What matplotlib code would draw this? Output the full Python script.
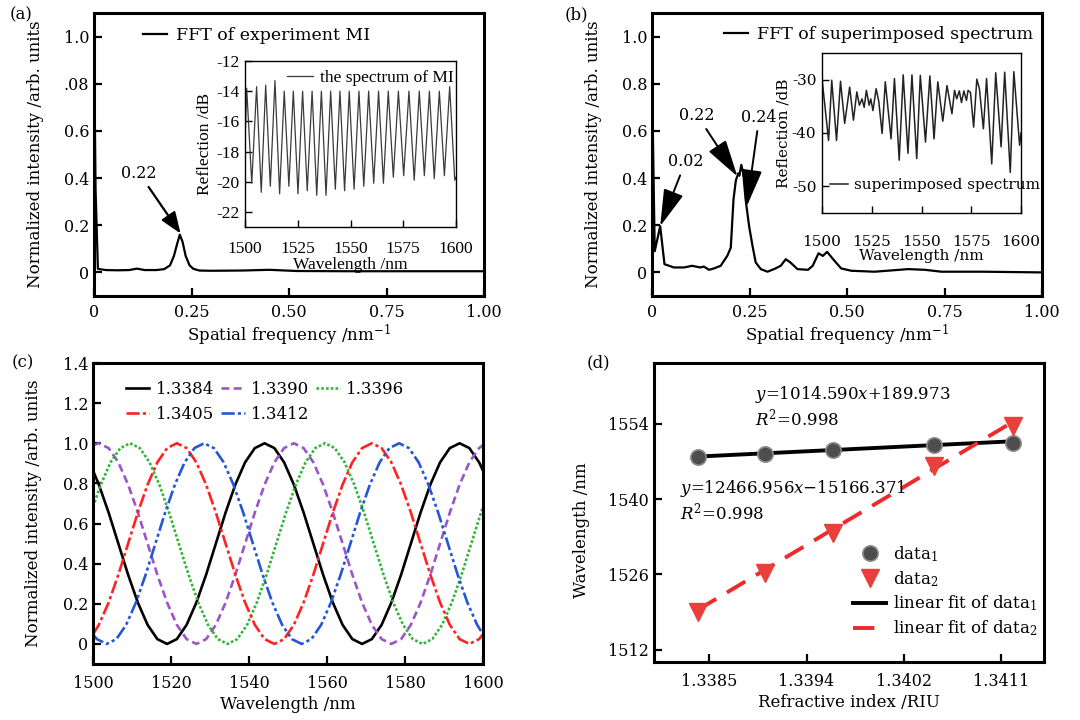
import numpy as np
import matplotlib
matplotlib.use('Agg')
import matplotlib.pyplot as plt

plt.rcParams['font.family'] = 'DejaVu Serif'
plt.rcParams['mathtext.fontset'] = 'dejavuserif'
plt.rcParams['axes.unicode_minus'] = False

# (a) FFT of experiment MI
fft_a_freq = [0.0, 0.004, 0.010, 0.03, 0.06, 0.09, 0.11, 0.13, 0.16, 0.18, 0.195, 0.205, 0.213,
              0.22, 0.227, 0.235, 0.245, 0.255, 0.27, 0.30, 0.38, 0.45, 0.52, 0.65, 0.80, 1.0]
fft_a_amp = [1.0, 0.35, 0.015, 0.01, 0.009, 0.01, 0.016, 0.01, 0.01, 0.014, 0.03, 0.07, 0.12,
             0.16, 0.13, 0.07, 0.03, 0.015, 0.008, 0.007, 0.008, 0.011, 0.006, 0.005, 0.005, 0.005]

# (a) inset: reflection spectrum of MI (peaks / dips)
mi_wl = [1500, 1500.8, 1503.2, 1505.5, 1507.7, 1509.8, 1512.0, 1514.2, 1516.4, 1518.6, 1520.8,
         1522.9, 1525.1, 1527.3, 1529.5, 1531.8, 1534.0, 1536.2, 1538.4, 1540.6, 1542.8, 1545.0,
         1547.2, 1549.4, 1551.7, 1554.0, 1556.3, 1558.6, 1561.0, 1563.3, 1565.6, 1567.9, 1570.3,
         1572.7, 1575.2, 1577.7, 1580.2, 1582.6, 1585.0, 1587.4, 1589.7, 1592.1, 1594.5, 1597.0,
         1599.4, 1600]
mi_db = [-17.5, -13.8, -20.1, -13.7, -20.7, -13.6, -20.3, -13.3, -20.8, -14.0, -20.3, -14.0, -20.8,
         -14.0, -20.6, -14.0, -20.9, -14.0, -20.9, -14.0, -20.5, -14.0, -20.6, -14.0, -20.5, -14.0,
         -20.3, -14.0, -20.1, -14.0, -20.1, -14.0, -19.7, -14.0, -19.6, -14.0, -19.9, -14.0, -19.6,
         -14.0, -19.8, -14.0, -19.6, -13.7, -19.9, -19.7]

# (b) FFT of superimposed spectrum
fft_b_freq = [0.0, 0.007, 0.021, 0.032, 0.056, 0.082, 0.103, 0.124, 0.133, 0.146, 0.159, 0.176,
              0.193, 0.202, 0.209, 0.215, 0.221, 0.224, 0.229, 0.234, 0.24, 0.249, 0.258, 0.266,
              0.279, 0.296, 0.313, 0.33, 0.343, 0.355, 0.373, 0.40, 0.412, 0.427, 0.438, 0.449,
              0.468, 0.485, 0.511, 0.571, 0.657, 0.70, 0.742, 0.85, 1.0]
fft_b_amp = [0.82, 0.09, 0.196, 0.035, 0.021, 0.021, 0.028, 0.021, 0.025, 0.011, 0.017, 0.028,
             0.07, 0.105, 0.31, 0.39, 0.42, 0.41, 0.456, 0.42, 0.31, 0.196, 0.11, 0.042,
             0.014, 0.003, 0.014, 0.028, 0.056, 0.042, 0.014, 0.011, 0.028, 0.081, 0.07, 0.087,
             0.049, 0.017, 0.007, 0.003, 0.014, 0.011, 0.003, 0.003, 0.0]

# (b) inset: superimposed spectrum
sup_wl = [1500, 1503.3, 1504.9, 1507.3, 1509.3, 1511.4, 1513.9, 1515.8, 1517.5, 1518.8, 1520.1,
          1521.2, 1522.3, 1523.7, 1524.5, 1525.6, 1527.2, 1528.5, 1530.2, 1531.8, 1534.7, 1536.4,
          1538.8, 1540.8, 1543.2, 1545.2, 1547.6, 1549.4, 1552.0, 1554.2, 1556.3, 1558.2, 1560.7,
          1562.8, 1565.3, 1566.6, 1567.7, 1569.0, 1570.1, 1571.3, 1572.6, 1573.4, 1574.6, 1576.2,
          1577.8, 1579.1, 1581.1, 1582.7, 1585.3, 1587.3, 1590.0, 1591.8, 1594.6, 1596.4, 1599.3,
          1600]
sup_db = [-29.8, -41.4, -30.1, -41.4, -30.3, -38.2, -31.4, -37.6, -32.3, -34.8, -33.6, -35.2,
          -32.0, -34.8, -33.6, -35.8, -31.7, -34.0, -40.1, -30.4, -41.1, -29.8, -45.1, -29.1,
          -43.8, -29.1, -44.8, -29.2, -41.7, -29.3, -41.1, -30.4, -37.8, -31.1, -36.4, -32.0,
          -33.6, -32.1, -34.3, -32.1, -33.9, -32.0, -32.4, -38.9, -29.9, -31.7, -39.2, -29.8,
          -45.8, -28.7, -42.6, -28.6, -47.4, -28.5, -42.3, -40.0]

# (c) simulated fringes for five refractive indices
ri_labels = ['1.3384', '1.3390', '1.3396', '1.3405', '1.3412']
wl_a = [1500, 1501.5, 1504, 1506.5, 1509, 1511.5, 1514, 1516.5, 1519, 1521.5, 1524, 1526.5, 1529,
        1531.5, 1534, 1536.5, 1539, 1541.5, 1544, 1546.5, 1549, 1551.5, 1554, 1556.5, 1559,
        1561.5, 1564, 1566.5, 1569, 1571.5, 1574, 1576.5, 1579, 1581.5, 1584, 1586.5, 1589,
        1591.5, 1594, 1596.5, 1599, 1600]
wl_green = [1500, 1502, 1504.5, 1507, 1509.5, 1512, 1514.5, 1517, 1519.5, 1522, 1524.5, 1527,
            1529.5, 1532, 1534.5, 1537, 1539.5, 1542, 1544.5, 1547, 1549.5, 1552, 1554.5, 1557,
            1559.5, 1562, 1564.5, 1567, 1569.5, 1572, 1574.5, 1577, 1579.5, 1582, 1584.5, 1587,
            1589.5, 1592, 1594.5, 1597, 1599.5, 1600]
wl_blue = [1500, 1501, 1503.5, 1506, 1508.5, 1511, 1513.5, 1516, 1518.5, 1521, 1523.5, 1526,
           1528.5, 1531, 1533.5, 1536, 1538.5, 1541, 1543.5, 1546, 1548.5, 1551, 1553.5, 1556,
           1558.5, 1561, 1563.5, 1566, 1568.5, 1571, 1573.5, 1576, 1578.5, 1581, 1583.5, 1586,
           1588.5, 1591, 1593.5, 1596, 1598.5, 1600]
int_3384 = [0.864, 0.794, 0.655, 0.5, 0.345, 0.206, 0.095, 0.024, 0.0, 0.024, 0.095, 0.206,
            0.345, 0.5, 0.655, 0.794, 0.905, 0.976, 1.0, 0.976, 0.905, 0.794, 0.655, 0.5, 0.345,
            0.206, 0.095, 0.024, 0.0, 0.024, 0.095, 0.206, 0.345, 0.5, 0.655, 0.794, 0.905,
            0.976, 1.0, 0.976, 0.905, 0.864]
int_3390 = [0.991, 1.0, 0.976, 0.905, 0.794, 0.655, 0.5, 0.345, 0.206, 0.095, 0.024, 0.0,
            0.024, 0.095, 0.206, 0.345, 0.5, 0.655, 0.794, 0.905, 0.976, 1.0, 0.976, 0.905,
            0.794, 0.655, 0.5, 0.345, 0.206, 0.095, 0.024, 0.0, 0.024, 0.095, 0.206, 0.345, 0.5,
            0.655, 0.794, 0.905, 0.976, 0.991]
int_3396 = [0.684, 0.794, 0.905, 0.976, 1.0, 0.976, 0.905, 0.794, 0.655, 0.5, 0.345, 0.206,
            0.095, 0.024, 0.0, 0.024, 0.095, 0.206, 0.345, 0.5, 0.655, 0.794, 0.905, 0.976, 1.0,
            0.976, 0.905, 0.794, 0.655, 0.5, 0.345, 0.206, 0.095, 0.024, 0.0, 0.024, 0.095,
            0.206, 0.345, 0.5, 0.655, 0.684]
int_3405 = [0.048, 0.095, 0.206, 0.345, 0.5, 0.655, 0.794, 0.905, 0.976, 1.0, 0.976, 0.905,
            0.794, 0.655, 0.5, 0.345, 0.206, 0.095, 0.024, 0.0, 0.024, 0.095, 0.206, 0.345, 0.5,
            0.655, 0.794, 0.905, 0.976, 1.0, 0.976, 0.905, 0.794, 0.655, 0.5, 0.345, 0.206,
            0.095, 0.024, 0.0, 0.024, 0.048]
int_3412 = [0.048, 0.024, 0.0, 0.024, 0.095, 0.206, 0.345, 0.5, 0.655, 0.794, 0.905, 0.976,
            1.0, 0.976, 0.905, 0.794, 0.655, 0.5, 0.345, 0.206, 0.095, 0.024, 0.0, 0.024, 0.095,
            0.206, 0.345, 0.5, 0.655, 0.794, 0.905, 0.976, 1.0, 0.976, 0.905, 0.794, 0.655, 0.5,
            0.345, 0.206, 0.095, 0.048]

# (d) dip wavelength vs refractive index
ri = [1.3384, 1.3390, 1.3396, 1.3405, 1.3412]
dip1 = [1547.8, 1548.4, 1549.2, 1550.0, 1550.5]
dip2 = [1519.0, 1526.2, 1533.6, 1546.2, 1553.6]
fit1 = (1014.590, 189.973)
fit2 = (12466.956, -15166.371)
d_xticks = [1.3385, 1.339367, 1.340233, 1.3411]
d_xticklabels = ['1.3385', '1.3394', '1.3402', '1.3411']


def style_axes(ax, lw=2.2, fs=11.5):
    for s in ax.spines.values():
        s.set_linewidth(lw)
    ax.tick_params(direction='in', length=6, width=1.6, labelsize=fs,
                   top=False, right=False)


fig = plt.figure(figsize=(10.8, 7.2), dpi=100)
W, H = 1080.0, 720.0


def box(l, t, r, b):
    return [l / W, 1 - b / H, (r - l) / W, (b - t) / H]


arrow_small = dict(arrowstyle='-|>,head_length=0.65,head_width=0.25', color='k', lw=1.6,
                   mutation_scale=20, shrinkA=2, shrinkB=0)
arrow_big = dict(arrowstyle='-|>,head_length=1.15,head_width=0.32', color='k', lw=1.4,
                 mutation_scale=20, shrinkA=2, shrinkB=0)

# ---------------- (a)
ax_a = fig.add_axes(box(94, 13, 484, 296))
ax_a.plot(fft_a_freq, fft_a_amp, color='k', lw=1.6, label='FFT of experiment MI')
ax_a.set_xlim(0, 1)
ax_a.set_ylim(-0.1, 1.1)
ax_a.set_xticks([0, 0.25, 0.5, 0.75, 1.0])
ax_a.set_xticklabels(['0', '0.25', '0.50', '0.75', '1.00'])
ax_a.set_yticks([0, 0.2, 0.4, 0.6, 0.8, 1.0])
ax_a.set_yticklabels(['0', '0.2', '0.4', '0.6', '.08', '1.0'])
style_axes(ax_a)
ax_a.tick_params(axis='x', pad=6)
ax_a.set_xlabel('Spatial frequency /nm$^{-1}$', fontsize=12, labelpad=1)
ax_a.set_ylabel('Normalized intensity /arb. units', fontsize=12)
ax_a.yaxis.set_label_coords(-0.128, 0.5)
ax_a.legend(loc='upper left', bbox_to_anchor=(0.125, 0.952), frameon=False, fontsize=12.5,
            handlelength=1.4, handletextpad=0.5, borderpad=0, borderaxespad=0)
ax_a.annotate('0.22', xy=(0.222, 0.165), xytext=(0.116, 0.42), fontsize=11.5,
              ha='center', va='center', arrowprops=arrow_small)

ins_a = fig.add_axes(box(245, 61, 456, 227))
ins_a.plot(mi_wl, mi_db, color='#3a3a3a', lw=0.9, label='the spectrum of MI')
ins_a.set_xlim(1500, 1600)
ins_a.set_ylim(-23, -12)
ins_a.set_xticks([1500, 1525, 1550, 1575, 1600])
ins_a.set_yticks([-22, -20, -18, -16, -14, -12])
for s in ins_a.spines.values():
    s.set_linewidth(1.0)
ins_a.tick_params(direction='in', length=5, width=1.0, labelsize=12.5,
                  labelfontfamily='Liberation Serif', pad=4)
ins_a.tick_params(axis='x', pad=10)
ins_a.set_xlabel('Wavelength /nm', fontsize=12.5, family='Liberation Serif', labelpad=0)
ins_a.set_ylabel('Reflection /dB', fontsize=12.5, family='Liberation Serif', labelpad=2)
ins_a.legend(loc='upper left', bbox_to_anchor=(0.2, 0.945), frameon=False,
             prop={'family': 'Liberation Serif', 'size': 12.5},
             handlelength=1.5, handletextpad=0.4, borderpad=0, borderaxespad=0)

# ---------------- (b)
ax_b = fig.add_axes(box(652, 13, 1042, 296))
ax_b.plot(fft_b_freq, fft_b_amp, color='k', lw=1.6, label='FFT of superimposed spectrum')
ax_b.set_xlim(0, 1)
ax_b.set_ylim(-0.1, 1.1)
ax_b.set_xticks([0, 0.25, 0.5, 0.75, 1.0])
ax_b.set_xticklabels(['0', '0.25', '0.50', '0.75', '1.00'])
ax_b.set_yticks([0, 0.2, 0.4, 0.6, 0.8, 1.0])
ax_b.set_yticklabels(['0', '0.2', '0.4', '0.6', '0.8', '1.0'])
style_axes(ax_b)
ax_b.tick_params(axis='x', pad=6)
ax_b.set_xlabel('Spatial frequency /nm$^{-1}$', fontsize=12, labelpad=1)
ax_b.set_ylabel('Normalized intensity /arb. units', fontsize=12)
ax_b.yaxis.set_label_coords(-0.128, 0.5)
ax_b.legend(loc='upper left', bbox_to_anchor=(0.185, 0.955), frameon=False, fontsize=12.5,
            handlelength=1.4, handletextpad=0.5, borderpad=0, borderaxespad=0)
ax_b.annotate('0.02', xy=(0.021, 0.196), xytext=(0.086, 0.47), fontsize=11.5,
              ha='center', va='center', arrowprops=arrow_big)
ax_b.annotate('0.22', xy=(0.219, 0.407), xytext=(0.116, 0.666), fontsize=11.5,
              ha='center', va='center', arrowprops=arrow_big)
ax_b.annotate('0.24', xy=(0.243, 0.28), xytext=(0.275, 0.659), fontsize=11.5,
              ha='center', va='center', arrowprops=arrow_big)

ins_b = fig.add_axes(box(822, 53, 1021, 213))
ins_b.plot(sup_wl, sup_db, color='#222222', lw=1.1, label='superimposed spectrum')
ins_b.set_xlim(1500, 1600)
ins_b.set_ylim(-55, -25)
ins_b.set_xticks([1500, 1525, 1550, 1575, 1600])
ins_b.set_yticks([-50, -40, -30])
for s in ins_b.spines.values():
    s.set_linewidth(1.0)
ins_b.tick_params(direction='in', length=5, width=1.0, labelsize=11, pad=4)
ins_b.tick_params(axis='x', pad=16)
ins_b.set_xlabel('Wavelength /nm', fontsize=11, labelpad=0)
ins_b.set_ylabel('Reflection /dB', fontsize=11, labelpad=1)
ins_b.legend(loc='lower left', bbox_to_anchor=(0.04, 0.13), frameon=False, fontsize=11,
             handlelength=1.2, handletextpad=0.4, borderpad=0, borderaxespad=0)

# ---------------- (c)
ax_c = fig.add_axes(box(93, 363, 483, 664))
c_lines = [
    (wl_a, int_3384, 'k', '-'),
    (wl_a, int_3390, '#9b55c6', (0, (3.0, 1.6))),
    (wl_green, int_3396, '#33b43a', (0, (1.0, 0.8))),
    (wl_a, int_3405, '#ff2222', (0, (5.0, 1.2, 1.2, 1.2))),
    (wl_blue, int_3412, '#2456d8', (0, (5.0, 1.2, 1.2, 1.2, 1.2, 1.2))),
]
handles = []
for (x, y, col, ls), lab in zip(c_lines, ri_labels):
    h, = ax_c.plot(x, y, color=col, ls=ls, lw=1.9, label=lab)
    handles.append(h)
ax_c.set_xlim(1500, 1600)
ax_c.set_ylim(-0.1, 1.4)
ax_c.set_xticks([1500, 1520, 1540, 1560, 1580, 1600])
ax_c.set_yticks([0, 0.2, 0.4, 0.6, 0.8, 1.0, 1.2, 1.4])
ax_c.set_yticklabels(['0', '0.2', '0.4', '0.6', '0.8', '1.0', '1.2', '1.4'])
style_axes(ax_c)
ax_c.tick_params(axis='x', pad=8)
ax_c.set_xlabel('Wavelength /nm', fontsize=12, labelpad=3)
ax_c.set_ylabel('Normalized intensity /arb. units', fontsize=12)
ax_c.yaxis.set_label_coords(-0.13, 0.5)
order = [0, 3, 1, 4, 2]
ax_c.legend([handles[i] for i in order], [ri_labels[i] for i in order], ncol=3,
            loc='upper left', bbox_to_anchor=(0.085, 0.94), frameon=False, fontsize=12,
            handlelength=1.4, handletextpad=0.4, columnspacing=0.4, labelspacing=0.45,
            borderpad=0, borderaxespad=0)

# ---------------- (d)
ax_d = fig.add_axes(box(654, 363, 1044, 662))
ri_arr = np.array(ri)
ax_d.plot(ri_arr, fit1[0] * ri_arr + fit1[1], color='k', lw=2.8,
          label='linear fit of data$_1$', zorder=2)
ax_d.plot(ri_arr, fit2[0] * ri_arr + fit2[1], color='#ee2a2a', lw=2.8, ls=(0, (5.5, 3.2)),
          label='linear fit of data$_2$', zorder=2)
ax_d.plot(ri, dip1, 'o', ms=11, mfc='#4d4d4d', mec='#8a8a8a', mew=1.2, label='data$_1$', zorder=3)
ax_d.plot(ri, dip2, 'v', ms=13, mfc='#e8403c', mec='#e8403c', label='data$_2$', zorder=3)
ax_d.set_xlim(1.33801, 1.34148)
ax_d.set_ylim(1509.7, 1565.3)
ax_d.set_xticks(d_xticks)
ax_d.set_xticklabels(d_xticklabels)
ax_d.set_yticks([1512, 1526, 1540, 1554])
style_axes(ax_d)
ax_d.tick_params(axis='x', pad=8)
ax_d.set_xlabel('Refractive index /RIU', fontsize=12, labelpad=3)
ax_d.set_ylabel('Wavelength /nm', fontsize=12)
ax_d.yaxis.set_label_coords(-0.165, 0.44)
hd, ld = ax_d.get_legend_handles_labels()
ax_d.legend([hd[2], hd[3], hd[0], hd[1]], [ld[2], ld[3], ld[0], ld[1]],
            loc='lower left', bbox_to_anchor=(0.51, 0.08), frameon=False, fontsize=12,
            handlelength=2.0, handletextpad=0.4, labelspacing=0.3,
            borderpad=0, borderaxespad=0)
ax_d.text(0.259, 0.894, '$y$=1014.590$x$+189.973', transform=ax_d.transAxes,
          fontsize=12, va='center')
ax_d.text(0.259, 0.816, '$R^2$=0.998', transform=ax_d.transAxes, fontsize=12, va='center')
ax_d.text(0.066, 0.579, '$y$=12466.956$x$\u221215166.371', transform=ax_d.transAxes,
          fontsize=12, va='center')
ax_d.text(0.066, 0.50, '$R^2$=0.998', transform=ax_d.transAxes, fontsize=12, va='center')

# panel letters
for txt, px, py in [('(a)', 21, 15), ('(b)', 576, 15), ('(c)', 23, 363), ('(d)', 598, 363)]:
    fig.text(px / W, 1 - py / H, txt, fontsize=12, ha='center', va='center')

fig.savefig('out.png', dpi=100)
